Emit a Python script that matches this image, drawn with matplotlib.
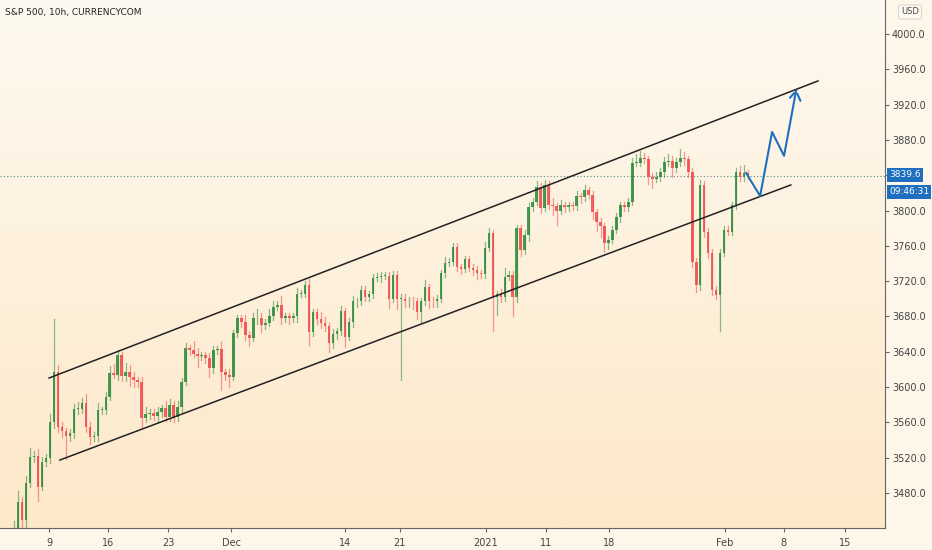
import numpy as np
import matplotlib
matplotlib.use("Agg")
import matplotlib.pyplot as plt
from matplotlib.colors import LinearSegmentedColormap

title = "S&P 500, 10h, CURRENCYCOM"
closes = [
    3440,3470,3450,3491,3521,3522,3487,3515,3520,3560,
    3617,3555,3550,3545,3548,3575,3575,3582,3555,3543,
    3545,3574,3574,3589,3616,3614,3636,3613,3617,3611,
    3608,3606,3565,3570,3571,3567,3572,3576,3566,3580,
    3566,3578,3606,3644,3642,3638,3635,3636,3633,3622,
    3642,3643,3617,3614,3612,3661,3678,3674,3659,3656,
    3678,3678,3670,3673,3680,3691,3693,3678,3680,3678,
    3680,3706,3706,3716,3662,3685,3677,3673,3669,3650,
    3660,3663,3686,3657,3674,3697,3697,3710,3702,3705,
    3724,3725,3726,3726,3700,3727,3700,3700,3697,3698,
    3697,3685,3697,3713,3698,3697,3700,3729,3741,3742,
    3759,3736,3734,3745,3735,3733,3729,3728,3758,3774,
    3702,3705,3702,3725,3727,3702,3780,3755,3772,3804,
    3810,3827,3803,3829,3806,3805,3800,3806,3804,3806,
    3805,3816,3815,3823,3818,3798,3787,3782,3763,3767,
    3778,3793,3806,3804,3810,3854,3854,3859,3858,3838,
    3836,3838,3844,3855,3856,3848,3855,3860,3858,3844,
    3742,3716,3829,3776,3752,3710,3704,3752,3778,3776,
    3806,3844,3838,3842,3840,
]
first_open = 3425
# wick extensions above / below the bodies (points)
wick_hi = [
    8,12,6,8,10,6,8,6,4,10,
    60,8,6,4,4,6,8,6,10,6,
    4,8,4,6,8,10,6,4,10,8,
    6,4,6,8,4,4,6,4,8,6,
    4,6,4,6,4,10,6,4,4,6,
    4,4,8,4,6,4,4,4,8,4,
    6,10,6,4,8,6,4,10,4,4,
    4,6,4,4,6,4,4,8,6,4,
    6,4,6,4,4,6,4,4,4,4,
    4,4,4,4,4,4,4,6,6,4,
    4,4,4,8,4,4,4,4,6,4,
    4,4,4,4,4,4,4,4,6,6,
    4,4,6,10,4,4,4,4,6,4,
    4,6,4,6,4,8,4,6,4,4,
    4,6,4,6,4,4,4,4,4,4,
    4,4,4,4,4,6,10,8,6,4,
    4,6,4,6,8,6,4,10,6,4,
    4,4,6,4,4,4,4,4,4,4,
    4,4,6,10,4,
]
wick_lo = [
    10,6,20,8,4,6,16,4,4,6,
    6,6,6,26,6,6,6,4,6,8,
    4,6,4,4,4,4,6,6,6,10,
    8,6,10,4,6,4,6,6,4,4,
    6,4,6,4,6,4,12,4,6,10,
    6,4,20,6,12,4,4,6,6,10,
    4,6,8,4,4,4,4,6,4,6,
    4,6,4,4,14,4,6,6,6,10,
    6,6,4,12,4,6,6,4,4,4,
    4,4,6,4,10,4,12,92,6,6,
    8,8,12,4,8,6,6,4,4,4,
    4,4,6,4,4,6,6,4,4,4,
    38,20,6,4,4,22,6,6,4,6,
    4,4,6,4,4,10,16,4,6,4,
    4,4,6,4,4,8,10,12,10,6,
    4,4,6,4,4,4,4,4,4,8,
    10,4,4,6,4,10,4,4,6,6,
    6,8,6,6,6,6,4,40,4,4,
    4,4,4,4,4,
]
price_ticks = [3480, 3520, 3560, 3600, 3640, 3680, 3720, 3760, 3800, 3840, 3880, 3920, 3960, 4000]
date_labels = ["9", "16", "23", "Dec", "14", "21", "2021", "11", "18", "Feb", "8", "15"]
date_idx = [8.8, 23.6, 38.6, 54.4, 83.0, 96.7, 118.3, 133.3, 149.1, 178.2, 192.9, 208.3]
last_price = 3839.6
timer_text = "09:46:31"
upper_channel = ([8.8, 201.5], [3610.3, 3946.8])
lower_channel = ([11.5, 194.7], [3517.4, 3829.0])
proj_x = [183.5, 187.0, 190.0, 193.0, 196.0]
proj_y = [3842.5, 3816.5, 3889.0, 3862.0, 3935.4]

W, H = 932, 550
fig = plt.figure(figsize=(W/100, H/100), dpi=100)
fig.patch.set_facecolor("#fdf6e9")
ax = fig.add_axes([0, 22/H, 885/W, 528/H])
xmin, xmax = -3.5, 218.3
ymin, ymax = 3440.4, 4038.5
grad = np.linspace(0, 1, 256).reshape(-1, 1)
cmap = LinearSegmentedColormap.from_list("bg", ["#fde8c9", "#fef9f0"])
ax.imshow(grad, aspect="auto", cmap=cmap, extent=[xmin, xmax, ymin, ymax], origin="lower", zorder=0)

green = "#2a8a3a"
red = "#ef4a4a"
opens = [first_open] + closes[:-1]
for i, (o, c) in enumerate(zip(opens, closes)):
    col = green if c >= o else red
    top, bot = max(o, c), min(o, c)
    ax.plot([i, i], [bot - wick_lo[i], top + wick_hi[i]], color=col, lw=0.9, alpha=0.55, zorder=2)
    ax.bar(i, max(top - bot, 0.8), bottom=bot, width=0.62, color=col, alpha=0.85, zorder=3, linewidth=0)

ax.plot(*upper_channel, color="#222222", lw=1.1, zorder=4)
ax.plot(*lower_channel, color="#222222", lw=1.1, zorder=4)
ax.plot(proj_x, proj_y, color="#1e6fc0", lw=1.5, zorder=5)
ax.annotate("", xy=(proj_x[-1], proj_y[-1]), xytext=(proj_x[-1] + 1.4, proj_y[-1] - 14),
            arrowprops=dict(arrowstyle="-", color="#1e6fc0", lw=1.5), zorder=5)
ax.annotate("", xy=(proj_x[-1], proj_y[-1]), xytext=(proj_x[-1] - 2.0, proj_y[-1] - 10),
            arrowprops=dict(arrowstyle="-", color="#1e6fc0", lw=1.5), zorder=5)
ax.axhline(last_price, color="#5a8a8a", lw=0.8, ls=(0, (1, 2)), zorder=1)

ax.set_xlim(xmin, xmax)
ax.set_ylim(ymin, ymax)
ax.yaxis.tick_right()
ax.set_yticks(price_ticks)
# the 3840 label is hidden behind the last-price marker
ax.set_yticklabels(["" if v == 3840 else f"{v:.1f}" for v in price_ticks], fontsize=7, color="#444444")
ax.set_xticks(date_idx)
ax.set_xticklabels(date_labels, fontsize=7, color="#444444")
ax.tick_params(axis="y", length=3, color="#666666", pad=2)
ax.tick_params(axis="x", length=3, color="#666666", pad=4)
for s in ["top", "left"]:
    ax.spines[s].set_visible(False)
ax.spines["right"].set_color("#666666")
ax.spines["bottom"].set_color("#666666")
ax.spines["right"].set_linewidth(0.8)
ax.spines["bottom"].set_linewidth(0.8)

fig.text(5/W, 1 - 12/H, title, fontsize=6.5, color="#222222", va="center", ha="left")
fig.text(910/W, 1 - 12/H, "USD", fontsize=6, color="#444444", va="center", ha="center",
         bbox=dict(boxstyle="round,pad=0.3", fc="#fffaf0", ec="#cccccc", lw=0.6))
fig.text(889/W, 1 - 175/H, f"{last_price:.1f}", fontsize=6.5, color="white", va="center", ha="left",
         bbox=dict(boxstyle="square,pad=0.25", fc="#1e6fc0", ec="none"))
fig.text(889/W, 1 - 192/H, timer_text, fontsize=6.5, color="white", va="center", ha="left",
         bbox=dict(boxstyle="square,pad=0.25", fc="#1e6fc0", ec="none"))
fig.savefig("out.png", dpi=100, facecolor=fig.get_facecolor())
